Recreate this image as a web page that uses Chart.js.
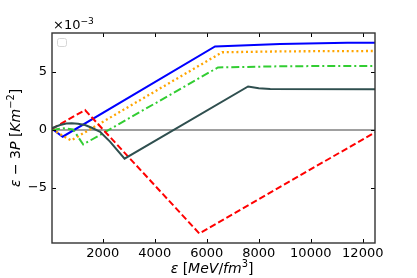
<!DOCTYPE html>
<html><head><meta charset="utf-8">
<script src="https://cdn.jsdelivr.net/npm/chart.js@4.4.1/dist/chart.umd.min.js"></script>
<style>html,body{margin:0;padding:0;background:#fff}canvas{display:block}</style>
</head><body>
<canvas id="c" width="417" height="278"></canvas>
<script>
// ---- data (y values in units of 1e-3 Km^-2) ----
const xBlue   = [50, 460, 6320, 8820, 11400, 12470];
const yBlue   = [0.10, -0.58, 7.20, 7.41, 7.53, 7.53];
const xOrange = [50, 780, 6590, 9000, 12470];
const yOrange = [0.05, -0.90, 6.70, 6.78, 6.81];
const xGreen  = [50, 500, 860, 1250, 6430, 9000, 12470];
const yGreen  = [0.00, 0.15, 0.05, -1.25, 5.39, 5.50, 5.52];
const xRed    = [50, 1320, 5715, 12470];
const yRed    = [0.10, 1.72, -8.92, -0.20];
const xDark   = [40, 360, 600, 810, 1050, 1320, 1600, 1900, 2280, 2840, 7590, 8000, 8440, 12470];
const yDark   = [0.15, 0.43, 0.55, 0.58, 0.53, 0.43, 0.17, -0.15, -1.00, -2.47, 3.75, 3.60, 3.53, 3.52];
const xZero   = [50, 12470];
const yZero   = [0, 0];
const xTicks  = [2000, 4000, 6000, 8000, 10000, 12000];
const yTicks  = [-5, 0, 5];
const xRange  = [50, 12470];
const yRange  = [-9.74, 8.36];

const pts = (xs, ys) => xs.map((x, i) => ({x: x, y: ys[i]}));
const FONT = '"DejaVu Sans", sans-serif';

function ds(xs, ys, color, dash, order, w) {
  return {data: pts(xs, ys), borderColor: color, borderWidth: w || 2, borderDash: dash,
          pointRadius: 0, fill: false, tension: 0, order: order, borderCapStyle: 'butt'};
}

function fontFor(s, size) {
  return (s.i ? 'italic ' : '') + (s.sup ? size * 0.7 : size) + 'px ' + FONT;
}
function drawRich(ctx, segs, x, y, rot, size, align) {
  ctx.save();
  ctx.translate(x, y); ctx.rotate(rot);
  let total = 0;
  const ws = segs.map(s => { ctx.font = fontFor(s, size); const w = ctx.measureText(s.t).width; total += w; return w; });
  let cx = align === 'left' ? 0 : -total / 2;
  ctx.textBaseline = 'alphabetic'; ctx.textAlign = 'left'; ctx.fillStyle = '#000';
  segs.forEach((s, i) => { ctx.font = fontFor(s, size); ctx.fillText(s.t, cx, s.sup ? -size * 0.42 : 0); cx += ws[i]; });
  ctx.restore();
}

const deco = {
  id: 'deco',
  afterDraw(chart) {
    const ctx = chart.ctx, a = chart.chartArea;
    const sx = chart.scales.x, sy = chart.scales.y;
    ctx.save();
    ctx.strokeStyle = '#000'; ctx.lineWidth = 1;
    // ticks (inward, all four sides)
    ctx.beginPath();
    xTicks.forEach(v => { const p = Math.round(sx.getPixelForValue(v)) + 0.5;
      ctx.moveTo(p, a.bottom); ctx.lineTo(p, a.bottom - 4);
      ctx.moveTo(p, a.top); ctx.lineTo(p, a.top + 4); });
    yTicks.forEach(v => { const p = Math.round(sy.getPixelForValue(v)) + 0.5;
      ctx.moveTo(a.left, p); ctx.lineTo(a.left + 4, p);
      ctx.moveTo(a.right, p); ctx.lineTo(a.right - 4, p); });
    ctx.stroke();
    // frame
    ctx.strokeStyle = '#333'; ctx.lineWidth = 1.4;
    ctx.strokeRect(Math.round(a.left), Math.round(a.top),
                   Math.round(a.right - a.left), Math.round(a.bottom - a.top));
    // empty legend box
    ctx.lineWidth = 1;
    ctx.strokeStyle = '#d6d6d6'; ctx.fillStyle = 'rgba(255,255,255,0.8)';
    ctx.beginPath(); ctx.roundRect(57.5, 38.5, 9, 8, 2); ctx.fill(); ctx.stroke();
    ctx.restore();
    // texts
    drawRich(ctx, [{t: '×10'}, {t: '−3', sup: true}], 53, 29, 0, 13, 'left');
    drawRich(ctx, [{t: 'ε', i: true}, {t: ' ['}, {t: 'MeV', i: true}, {t: '/'}, {t: 'fm', i: true}, {t: '3', sup: true}, {t: ']'}],
             212, 273, 0, 14);
    drawRich(ctx, [{t: 'ε', i: true}, {t: ' − 3'}, {t: 'P', i: true}, {t: ' ['}, {t: 'Km', i: true}, {t: '−2', sup: true}, {t: ']'}],
             20, 138, -Math.PI / 2, 14);
  }
};

new Chart(document.getElementById('c'), {
  type: 'line',
  data: {datasets: [
    ds(xZero, yZero, '#808080', [], 6, 1.6),
    ds(xBlue, yBlue, '#0000ff', [], 5),
    ds(xOrange, yOrange, '#ffa500', [2, 2.8], 4, 2.3),
    ds(xGreen, yGreen, '#32cd32', [8, 3, 2, 3], 3),
    ds(xRed, yRed, '#ff0000', [6.5, 3], 2),
    ds(xDark, yDark, '#2f4f4f', [], 1)
  ]},
  options: {
    responsive: false, animation: false, devicePixelRatio: 1,
    layout: {padding: {left: 0, top: 33, right: 42, bottom: 0}},
    plugins: {legend: {display: false}, tooltip: {enabled: false}},
    scales: {
      x: {type: 'linear', min: xRange[0], max: xRange[1],
          grid: {display: false, drawTicks: false}, border: {display: false},
          afterBuildTicks: s => { s.ticks = xTicks.map(v => ({value: v})); },
          afterFit: s => { s.height = 35; },
          ticks: {color: '#000', font: {family: FONT, size: 13}, padding: 3, maxRotation: 0,
                  callback: v => String(v)}},
      y: {type: 'linear', min: yRange[0], max: yRange[1],
          grid: {display: false, drawTicks: false}, border: {display: false},
          afterBuildTicks: s => { s.ticks = yTicks.map(v => ({value: v})); },
          afterFit: s => { s.width = 52; },
          ticks: {color: '#000', font: {family: FONT, size: 13}, padding: 5,
                  callback: v => String(v).replace('-', '−')}}
    }
  },
  plugins: [deco]
});
</script>
</body></html>
